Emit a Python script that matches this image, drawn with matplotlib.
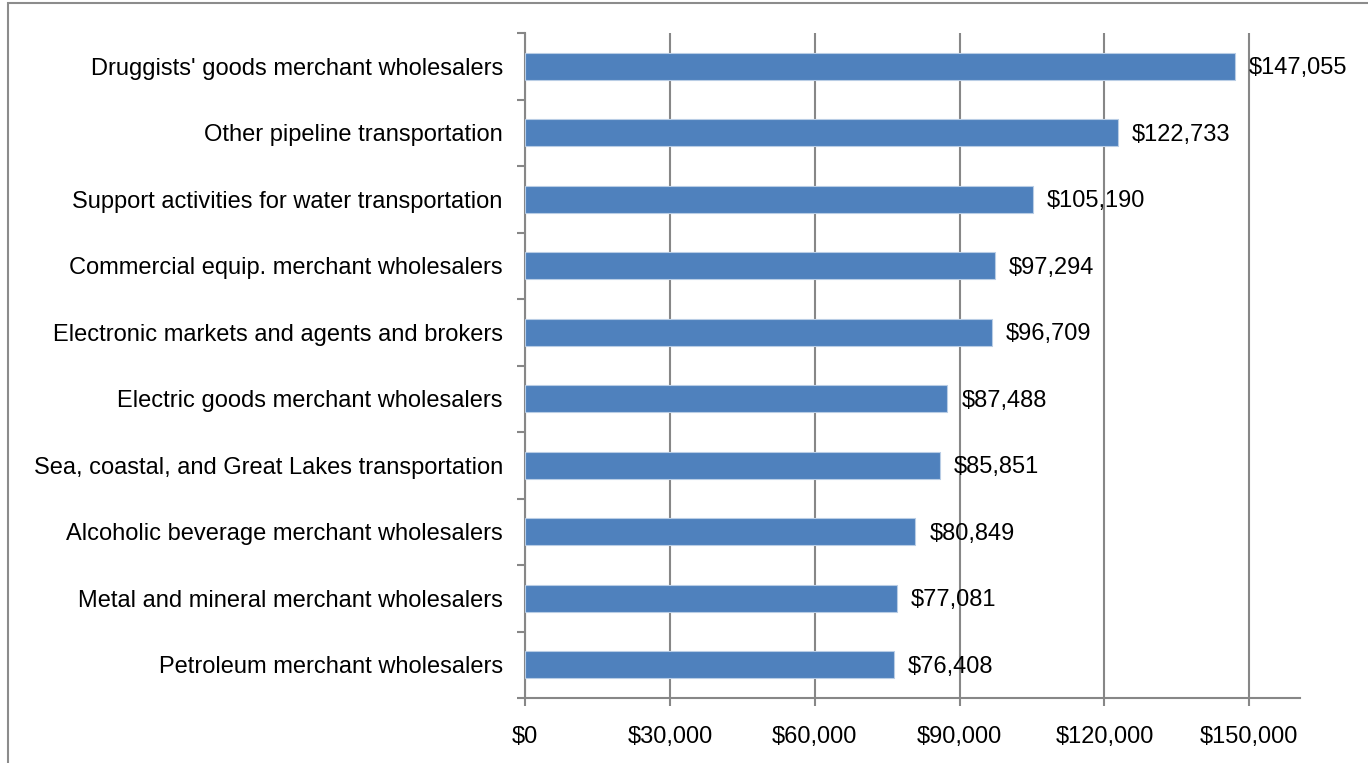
import matplotlib.pyplot as plt
import matplotlib.ticker as ticker
from matplotlib.patches import Rectangle

categories = [
    "Druggists' goods merchant wholesalers",
    "Other pipeline transportation",
    "Support activities for water transportation",
    "Commercial equip. merchant wholesalers",
    "Electronic markets and agents and brokers",
    "Electric goods merchant wholesalers",
    "Sea, coastal, and Great Lakes transportation",
    "Alcoholic beverage merchant wholesalers",
    "Metal and mineral merchant wholesalers",
    "Petroleum merchant wholesalers",
]
values = [147055, 122733, 105190, 97294, 96709, 87488, 85851, 80849, 77081, 76408]
xticks = [0, 30000, 60000, 90000, 120000, 150000]

GRID = '#878787'
BAR = '#4F81BD'

plt.rcParams['font.family'] = ['Liberation Sans', 'DejaVu Sans']

fig = plt.figure(figsize=(13.68, 7.63), dpi=100)
ax = fig.add_axes([525 / 1368, 1 - 698 / 763, 775 / 1368, 665 / 763])

# chart area border
fig.patches.append(Rectangle((8 / 1368, -0.1), 1.2, 1 - 3 / 763 + 0.1,
                             transform=fig.transFigure, fill=False,
                             edgecolor='#8c8c8c', linewidth=1.5))

ypos = list(range(len(categories)))[::-1]
ax.barh(ypos, values, height=0.4, color=BAR, edgecolor='#b9cde5', linewidth=0.8, zorder=3)

for y, v in zip(ypos, values):
    ax.text(v + 2900, y - 0.03, '${:,}'.format(v), va='center', ha='left', fontsize=17, zorder=4)

ax.set_xlim(0, 160500)
ax.set_ylim(-0.5, len(categories) - 0.5)
ax.set_xticks(xticks)
ax.xaxis.set_major_formatter(ticker.FuncFormatter(lambda x, p: '${:,.0f}'.format(x)))
ax.set_yticks(ypos)
ax.set_yticklabels(categories, fontsize=17)
ax.tick_params(axis='y', length=0, pad=16)
ax.set_yticks([i - 0.5 for i in range(len(categories) + 1)], minor=True)
ax.tick_params(axis='y', which='minor', length=6, color=GRID, width=1.5, direction='out')
ax.tick_params(axis='x', length=6, color=GRID, width=1.5, direction='out', labelsize=17, pad=14)

ax.grid(axis='x', color=GRID, linewidth=1.5, zorder=0)
ax.set_axisbelow(True)
for s in ['top', 'right']:
    ax.spines[s].set_visible(False)
for s in ['left', 'bottom']:
    ax.spines[s].set_color(GRID)
    ax.spines[s].set_linewidth(1.5)

fig.savefig('out.png', dpi=100)
